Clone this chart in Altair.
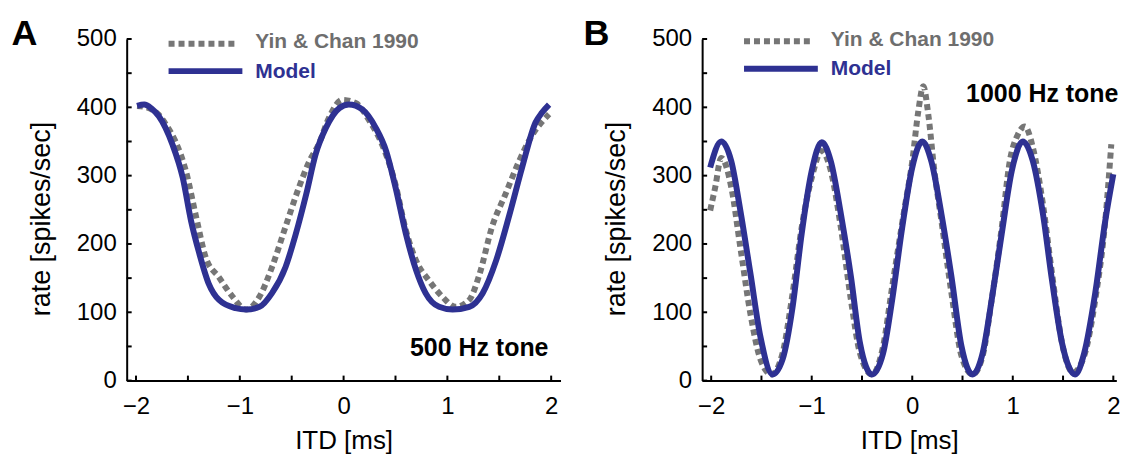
import altair as alt
import pandas as pd

# ---------------- data ----------------
# Panel A: 500 Hz tone
A_DATA_ITD = [-1.99, -1.90, -1.78, -1.70, -1.62, -1.52, -1.42, -1.33, -1.20, -1.07, -0.94,
              -0.81, -0.69, -0.56, -0.43, -0.33, -0.24, -0.14, -0.01, 0.12, 0.25, 0.37,
              0.50, 0.60, 0.70, 0.82, 0.95, 1.08, 1.21, 1.31, 1.43, 1.56, 1.69, 1.82, 1.98]
A_DATA_RATE = [402, 400, 389, 372, 350, 307, 239, 181, 151, 123, 104,
               123, 166, 225, 283, 321, 346, 385, 411, 406, 380, 346,
               287, 220, 175, 147, 123, 108, 118, 156, 225, 273, 321, 360, 390]
A_MODEL_ITD = [-1.99, -1.92, -1.85, -1.78, -1.65, -1.55, -1.47, -1.39, -1.30, -1.20, -1.04,
               -0.94, -0.81, -0.69, -0.56, -0.46, -0.36, -0.27, -0.17, -0.04, 0.05, 0.18,
               0.31, 0.41, 0.50, 0.60, 0.70, 0.79, 0.92, 1.05, 1.21, 1.34, 1.47, 1.60,
               1.72, 1.85, 1.91, 1.98]
A_MODEL_RATE = [402, 404, 398, 387, 346, 297, 234, 186, 142, 118, 106,
                104, 108, 128, 166, 215, 273, 331, 370, 399, 404, 397,
                370, 336, 283, 215, 161, 128, 108, 104, 108, 128, 176, 244,
                312, 378, 392, 404]

# Panel B: 1000 Hz tone
B_DATA_ITD = [-2.01, -1.96, -1.90, -1.80, -1.71, -1.61, -1.51, -1.40, -1.29, -1.19, -1.10,
              -1.00, -0.90, -0.81, -0.71, -0.61, -0.52, -0.40, -0.29, -0.20, -0.08, 0.00,
              0.06, 0.11, 0.16, 0.22, 0.29, 0.39, 0.49, 0.60, 0.70, 0.79, 0.89, 0.97,
              1.05, 1.12, 1.20, 1.30, 1.39, 1.49, 1.60, 1.71, 1.82, 1.92, 1.98]
B_DATA_RATE = [249, 283, 326, 283, 195, 98, 31, 9, 40, 128, 224,
               297, 336, 307, 224, 118, 40, 9, 50, 137, 249, 321,
               394, 431, 389, 307, 234, 128, 36, 9, 36, 118, 224, 321,
               360, 372, 341, 258, 157, 55, 12, 36, 118, 234, 346]
B_MODEL_ITD = [-2.01, -1.90, -1.80, -1.71, -1.61, -1.51, -1.39, -1.29, -1.19, -1.10, -1.00,
               -0.90, -0.81, -0.71, -0.61, -0.52, -0.40, -0.29, -0.20, -0.10, 0.00, 0.10,
               0.19, 0.29, 0.39, 0.49, 0.60, 0.70, 0.79, 0.89, 0.99, 1.10, 1.20, 1.30,
               1.39, 1.49, 1.62, 1.71, 1.82, 1.92, 2.00]
B_MODEL_RATE = [312, 350, 321, 249, 157, 64, 9, 31, 108, 215, 307,
                349, 321, 244, 152, 55, 9, 40, 118, 224, 312, 350,
                321, 244, 152, 50, 9, 40, 118, 215, 307, 350, 321, 244,
                147, 55, 9, 40, 128, 234, 302]

X_TICKS = [-2, -1.5, -1, -0.5, 0, 0.5, 1, 1.5, 2]
X_LABELS = [-2, -1, 0, 1, 2]
Y_TICKS = [0, 50, 100, 150, 200, 250, 300, 350, 400, 450, 500]
Y_LABELS = [0, 100, 200, 300, 400, 500]

SERIES_NAMES = ["Yin & Chan 1990", "Model"]

# ---------------- style ----------------
BLUE = "#2e3192"
GRAY = "#767676"
FONT = "Liberation Sans"
H = 342.5
LW = 6
DASH = [6, 4]

yscale = alt.Scale(domain=[0, 500], nice=False, zero=True)

yaxis = alt.Axis(values=Y_LABELS, ticks=False, tickSize=0, grid=False, domainColor="black",
                 domainWidth=2, labelFont=FONT, labelFontSize=24, labelColor="black",
                 labelPadding=10.5, labelFlush=False, format="d", title="rate [spikes/sec]",
                 titleFont=FONT, titleFontSize=27, titleFontWeight="normal",
                 titleColor="black", titlePadding=21, titleY=180)
Y = alt.Y("rate:Q", scale=yscale, axis=yaxis)

one = pd.DataFrame({"k": [0]})


def panel(d_itd, d_rate, m_itd, m_rate, xdom, ppu, letter, letter_x, tone, tone_x, tone_y,
          ldy):
    W = round((xdom[1] - xdom[0]) * ppu, 1)
    xscale = alt.Scale(domain=xdom, nice=False, zero=False)
    xaxis = alt.Axis(values=X_LABELS, ticks=False, tickSize=0, grid=False,
                     domainColor="black", domainWidth=2, labelFont=FONT, labelFontSize=24,
                     labelColor="black", labelPadding=14, labelFlush=False, format="d",
                     title="ITD [ms]", titleFont=FONT, titleFontSize=26,
                     titleFontWeight="normal", titleColor="black", titlePadding=9)
    X = alt.X("itd:Q", scale=xscale, axis=xaxis)
    df_d = pd.DataFrame({"itd": d_itd, "rate": d_rate})
    df_m = pd.DataFrame({"itd": m_itd, "rate": m_rate})
    gray = alt.Chart(df_d).mark_line(color=GRAY, strokeWidth=LW, strokeDash=DASH,
                                     interpolate="monotone").encode(x=X, y=Y)
    blue = alt.Chart(df_m).mark_line(color=BLUE, strokeWidth=LW,
                                     interpolate="monotone").encode(x=X, y=Y)
    xt = alt.Chart(pd.DataFrame({"itd": X_TICKS})).mark_rule(
        color="black", strokeWidth=2).encode(x=X, y=alt.value(H), y2=alt.value(H - 5))
    yt = alt.Chart(pd.DataFrame({"rate": Y_TICKS})).mark_rule(
        color="black", strokeWidth=2).encode(y=Y, x=alt.value(0), x2=alt.value(5))
    leg1 = alt.Chart(one).mark_rule(color=GRAY, strokeWidth=LW, strokeDash=DASH).encode(
        x=alt.value(42), x2=alt.value(112), y=alt.value(4.8 + ldy))
    leg2 = alt.Chart(one).mark_rule(color=BLUE, strokeWidth=LW).encode(
        x=alt.value(42), x2=alt.value(116), y=alt.value(32.2 + ldy))
    t1 = alt.Chart(one).mark_text(align="left", baseline="alphabetic", font=FONT,
                                  fontSize=21, fontWeight="bold", color="#6e6e6e").encode(
        x=alt.value(129), y=alt.value(9.5 + ldy), text=alt.value(SERIES_NAMES[0]))
    t2 = alt.Chart(one).mark_text(align="left", baseline="alphabetic", font=FONT,
                                  fontSize=21, fontWeight="bold", color=BLUE).encode(
        x=alt.value(129), y=alt.value(39 + ldy), text=alt.value(SERIES_NAMES[1]))
    let = alt.Chart(one).mark_text(align="left", baseline="alphabetic", font=FONT,
                                   fontSize=36, fontWeight="bold", color="black").encode(
        x=alt.value(letter_x), y=alt.value(5.5), text=alt.value(letter))
    tn = alt.Chart(one).mark_text(align="center", baseline="alphabetic", font=FONT,
                                  fontSize=25, fontWeight="bold", color="black").encode(
        x=alt.value(tone_x), y=alt.value(tone_y), text=alt.value(tone))
    return alt.layer(gray, blue, xt, yt, leg1, leg2, t1, t2, let, tn).properties(
        width=W, height=H)


pA = panel(A_DATA_ITD, A_DATA_RATE, A_MODEL_ITD, A_MODEL_RATE, [-2.09, 2.09], 104.07,
           "A", -115.5, "500 Hz tone", 353.5, 317.5, 0)
pB = panel(B_DATA_ITD, B_DATA_RATE, B_MODEL_ITD, B_MODEL_RATE, [-2.09, 2.03], 100.8,
           "B", -119, "1000 Hz tone", 341, 63.2, -2.5)

chart = alt.hconcat(pA, pB, spacing=22).properties(
    padding={"left": 3, "top": 6.5, "right": 0, "bottom": 0}
).configure_view(stroke=None)

chart.save("out.html", embed_options={"renderer": "svg", "actions": False})
